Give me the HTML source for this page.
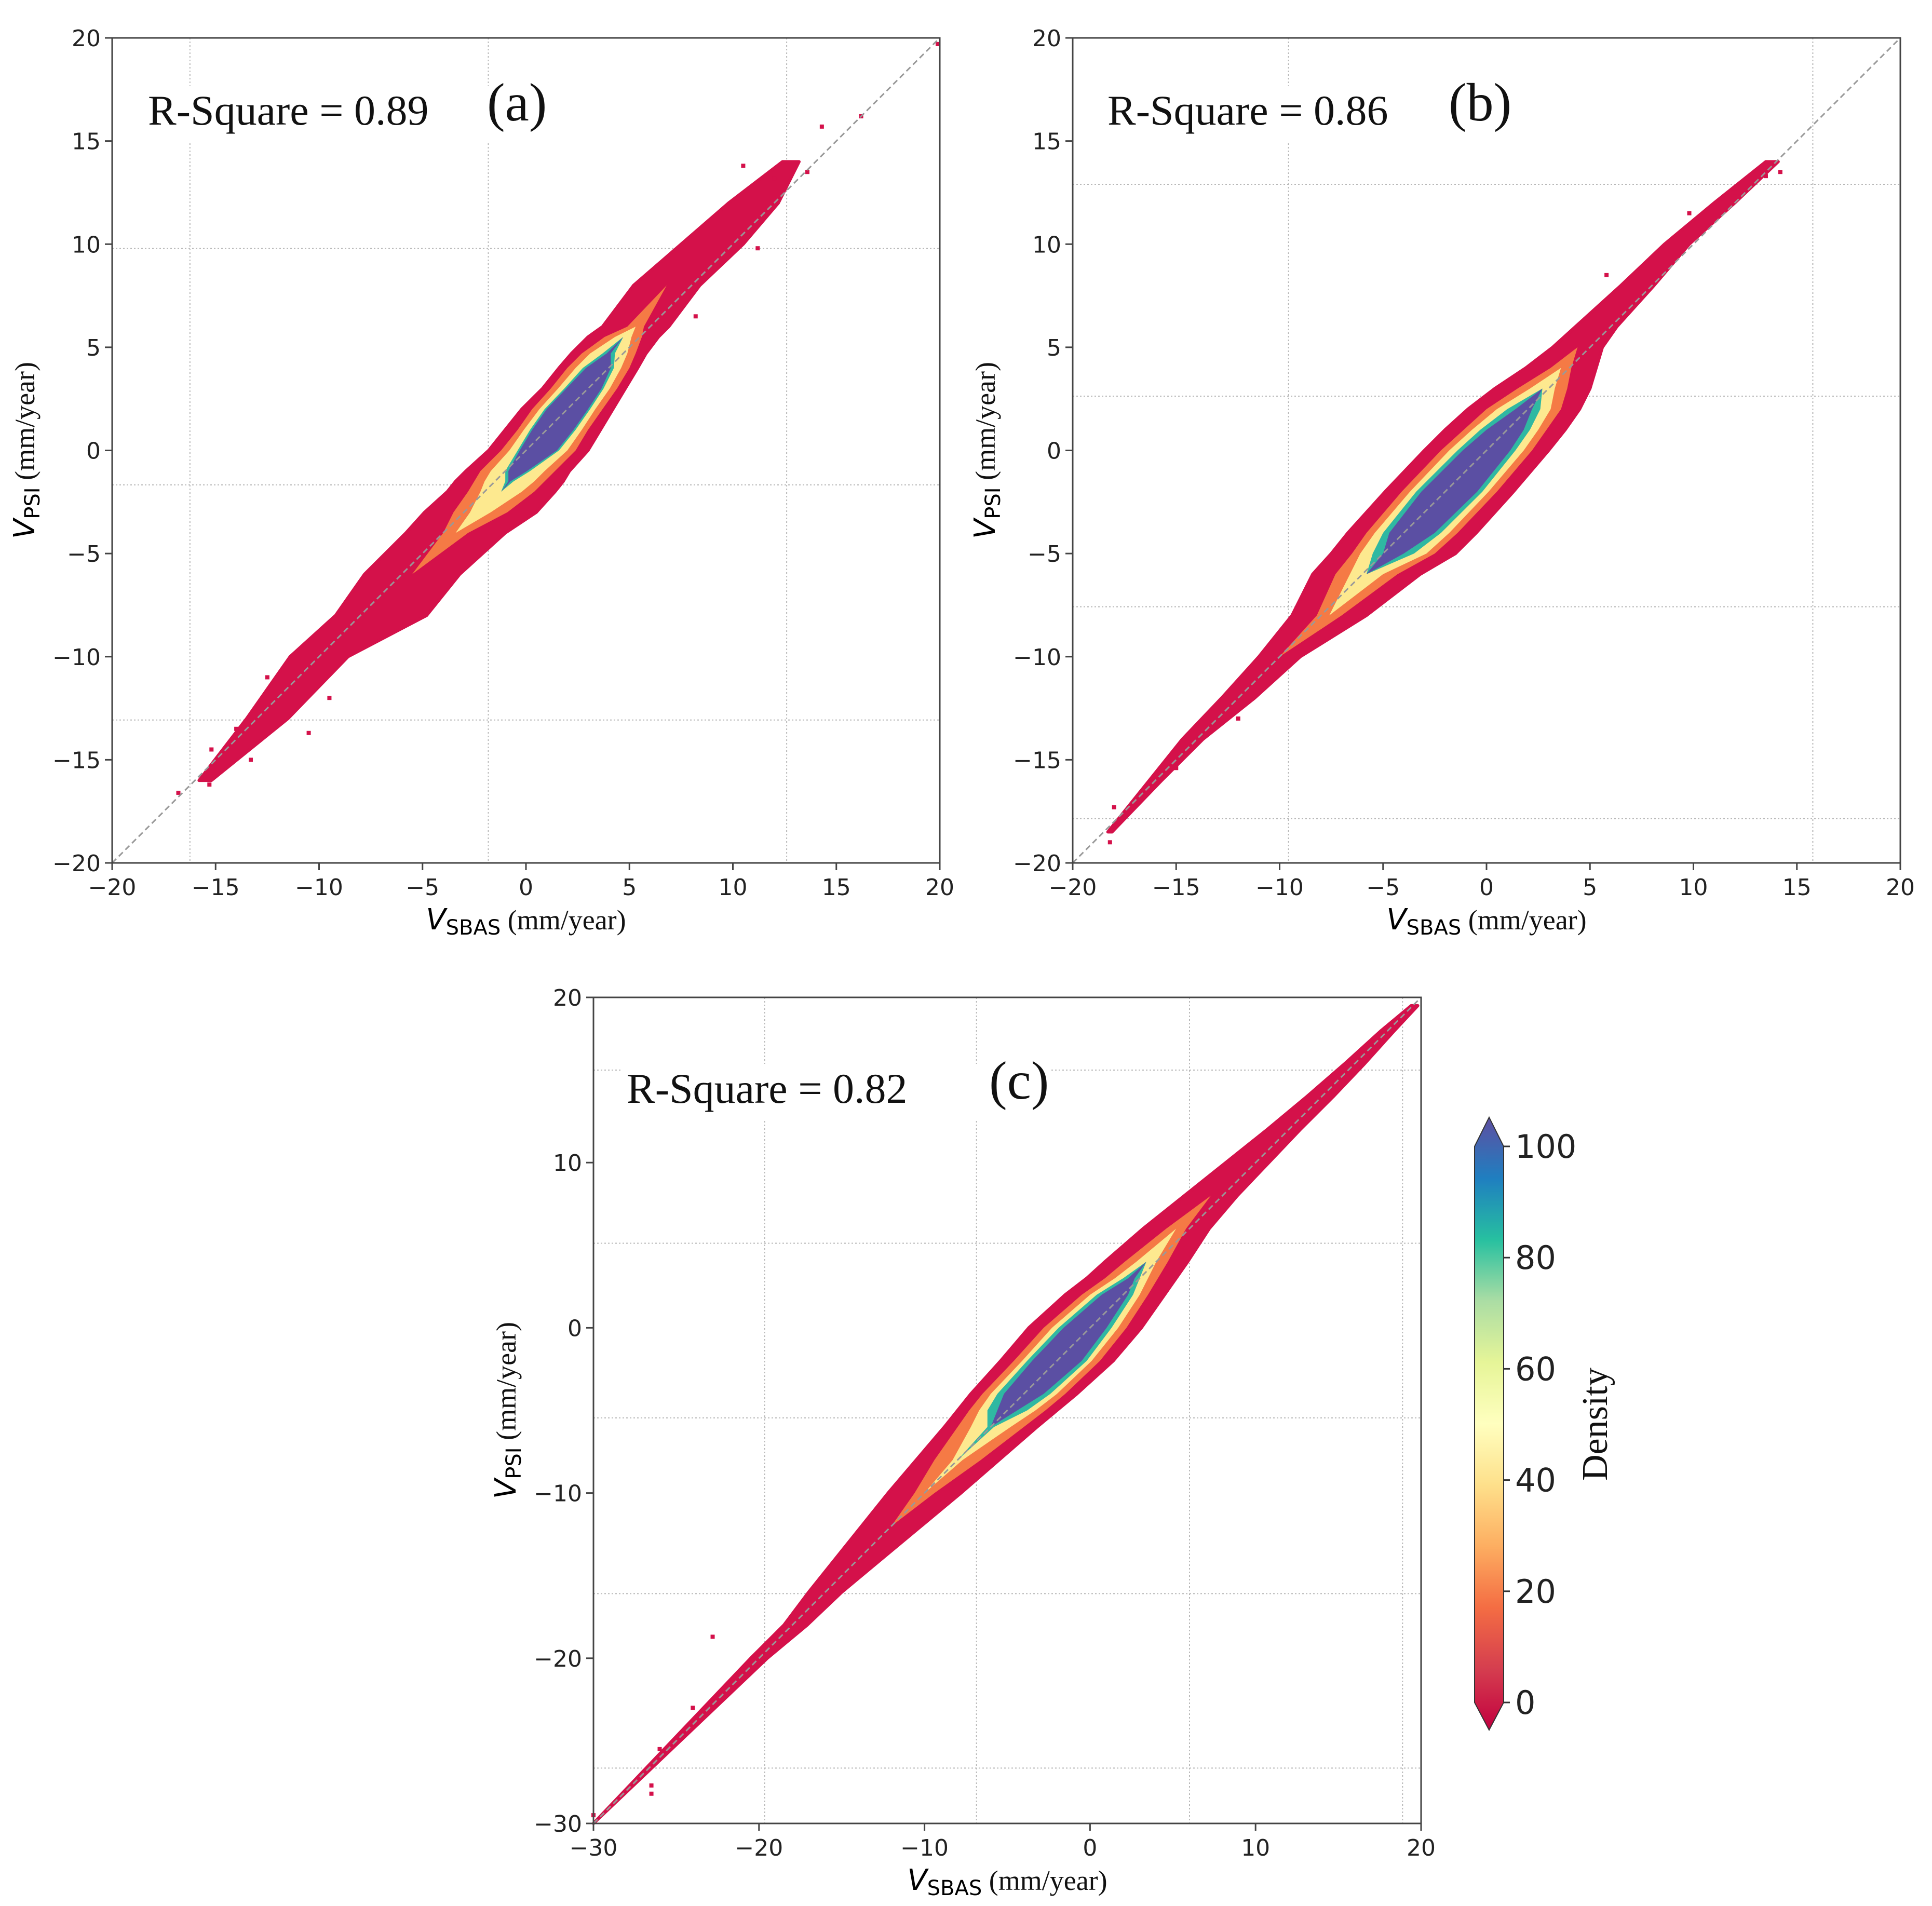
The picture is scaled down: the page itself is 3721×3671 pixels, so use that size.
<!DOCTYPE html>
<html><head><meta charset="utf-8">
<style>
html,body{margin:0;padding:0;background:#fff;}
svg{display:block;}
.tick{font-family:"DejaVu Sans","Liberation Sans",sans-serif;font-size:44px;fill:#222;}
.serif{font-family:"Liberation Serif",serif;fill:#111;}
</style></head>
<body>
<svg id="fig" width="3721" height="3671" viewBox="0 0 3721 3671" xmlns="http://www.w3.org/2000/svg">
<defs>
<linearGradient id="spectral" x1="0" y1="1" x2="0" y2="0">
<stop offset="0" stop-color="#c2003f"/><stop offset="0.1" stop-color="#d53e4f"/><stop offset="0.2" stop-color="#f46d43"/><stop offset="0.3" stop-color="#fdae61"/><stop offset="0.4" stop-color="#fee08b"/><stop offset="0.5" stop-color="#ffffbf"/><stop offset="0.6" stop-color="#e6f598"/><stop offset="0.7" stop-color="#abdda4"/><stop offset="0.8" stop-color="#27c0a0"/><stop offset="0.9" stop-color="#1f7fc0"/><stop offset="1" stop-color="#5e4fa2"/>
</linearGradient>
</defs>
</svg>
<script>
// ---- data ----
const aYs = [-16,-13,-10,-8,-6,-4,-3,-2,-1.5,-1,0,1,2,3,4,4.7,5.5,6,8,10,12,14];
const aCx = [-15.5,-12.5,-10,-7,-5.5,-3.4,-2.2,-1.2,-0.8,-0.4,0.6,1.3,2.0,2.8,3.5,4.0,4.7,5.3,6.8,9,11,12.8];
const aRed = [0.3,1.0,1.4,2.2,2.3,2.4,2.7,2.6,2.6,2.5,2.4,2.3,2.2,2.0,1.9,1.8,1.7,1.6,1.6,1.5,1.2,0.4];
const aOrange = [0,0,0,0,0,0.6,1.3,1.6,1.7,1.8,1.8,1.7,1.7,1.6,1.5,1.3,0.9,0.4,0,0,0,0];
const aYellow = [0,0,0,0,0,0,0.5,1.0,1.2,1.3,1.4,1.4,1.35,1.25,1.1,0.9,0.4,0,0,0,0,0];
const aCyan = [0,0,0,0,0,0,0,0,0.2,0.6,1.0,1.1,1.1,0.95,0.75,0.3,0,0,0,0,0,0];
const aCore = [0,0,0,0,0,0,0,0,0.05,0.45,0.9,1.0,1.0,0.85,0.6,0.1,0,0,0,0,0,0];
const aOut = [[-16.8,-16.6],[-15.3,-16.2],[-15.2,-14.5],[-13.3,-15],[-14,-13.5],[-11.5,-12],[-10.5,-13.7],[-9.5,-12],[-12.5,-11],[19.9,19.7],[16.2,16.2],[14.3,15.7],[13.6,13.5],[11.2,9.8],[10.5,13.8],[8.2,6.5],[12,13.2]];

const bYs = [-18.5,-16,-14,-12,-10,-8,-6,-5,-4,-2,0,1,2,3,4,5,6,8,10,12,14];
const bCx = [-18.2,-16,-14.2,-12,-10,-7.6,-5.8,-4.5,-3.6,-1.8,0,0.9,1.8,2.7,3.6,4.4,5.3,7.3,9.2,11.5,13.8];
const bRed = [0.1,0.3,0.5,0.8,1.0,1.8,2.6,3.0,3.1,3.1,3.0,2.9,2.7,2.3,1.7,1.2,1.0,0.8,0.6,0.5,0.3];
const bOrange = [0,0,0,0,0,0.6,1.5,2.0,2.2,2.3,2.2,2.0,1.8,1.2,0.5,0,0,0,0,0,0];
const bYellow = [0,0,0,0,0,0,0.8,1.6,1.8,1.9,1.8,1.6,1.3,0.6,0,0,0,0,0,0,0];
const bCyan = [0,0,0,0,0,0,0,1.0,1.4,1.6,1.4,1.2,0.8,0,0,0,0,0,0,0,0];
const bCore = [0,0,0,0,0,0,0,0.5,1.1,1.35,1.15,0.9,0.4,0,0,0,0,0,0,0,0];
const bOut = [[-18.2,-19],[-18,-17.3],[-15,-15.4],[-12,-13],[13.5,13.3],[14.2,13.5],[11.4,12.2],[9.8,11.5],[12,12.5],[5.8,8.5]];

const cYs = [-30,-26,-22,-20,-18,-16,-14,-12,-10,-8,-6,-5,-4,-2,0,2,3,4,6,8,10,12,14,16,18,19.5];
const cCx = [-30,-26,-22,-20,-17.8,-16,-14,-12,-10,-8,-6,-5,-4,-2,-0.3,1.5,2.5,3.4,5.2,7.3,9.5,11.7,13.9,16,18,19.6];
const cRed = [0,0.2,0.4,0.5,0.7,1.0,1.4,1.8,2.2,2.5,2.8,3.0,3.2,3.4,3.4,3.0,2.7,2.5,2.0,1.6,1.3,1.0,0.8,0.6,0.4,0.2];
const cOrange = [0,0,0,0,0,0,0,0,0.6,1.4,2.0,2.3,2.5,2.6,2.5,2.0,1.6,1.3,0.6,0,0,0,0,0,0,0];
const cYellow = [0,0,0,0,0,0,0,0,0,0.3,1.2,1.7,2.0,2.1,2.0,1.5,1.0,0.6,0,0,0,0,0,0,0,0];
const cCyan = [0,0,0,0,0,0,0,0,0,0,0.2,1.2,1.6,1.8,1.6,1.1,0.5,0,0,0,0,0,0,0,0,0];
const cCore = [0,0,0,0,0,0,0,0,0,0,0,0.6,1.2,1.5,1.3,0.8,0.2,0,0,0,0,0,0,0,0,0];
const cOut = [[-30,-29.5],[-26.5,-27.7],[-26.5,-28.2],[-24,-23],[-22.8,-18.7],[-26,-25.5],[19.5,19.3],[19,18.8],[18,18],[15.5,15]];

const abTicks = [-20,-15,-10,-5,0,5,10,15,20];
const cTicks = [-30,-20,-10,0,10,20];
const aGridX = [-16.24,-1.82,12.6], aGridY = [9.79,-1.67,-13.07];
const bGridX = [-9.57,15.77], bGridY = [12.9,2.63,-7.58,-17.85];
const cGridX = [-19.66,-6.86,6.01,18.88], cGridY = [15.6,5.12,-5.45,-16.09,-26.65];
const cbTicks = [0,20,40,60,80,100];
const rSquare = ["0.89","0.86","0.82"];

// ---- drawing ----
const NS="http://www.w3.org/2000/svg";
const svg=document.getElementById('fig');
function mk(tag,attrs,parent){const e=document.createElementNS(NS,tag);for(const k in attrs)e.setAttribute(k,attrs[k]);(parent||svg).appendChild(e);return e;}

const colors={red:"#d4114a",orange:"#f57a45",yellow:"#fde98f",cyan:"#2fb8a2",core:"#5b4fa3"};

function panel(id,L,T,W,H,xmin,xmax,ymin,ymax,ticksX,ticksY,gx,gy,ys,cx,bands,outs,r2,letter,txtX,letX,txtY){
  const g=mk('g',{});
  
  
  const X=v=>L+(v-xmin)/(xmax-xmin)*W;
  const Y=v=>T+H-(v-ymin)/(ymax-ymin)*H;
  gx.forEach(v=>{const l=mk('line',{x1:X(v),x2:X(v),y1:T,y2:T+H,stroke:'#b8b8b8','stroke-width':2,'stroke-dasharray':'3,4'},g);
    });
  gy.forEach(v=>{const l=mk('line',{x1:L,x2:L+W,y1:Y(v),y2:Y(v),stroke:'#b8b8b8','stroke-width':2,'stroke-dasharray':'3,4'},g);
    });
  const tb=mk('rect',{x:txtX-10,y:txtY-75,width:(letX+110)-txtX+20,height:110,fill:'#fff'},g);
  
  ['red','orange','yellow','cyan','core'].forEach(b=>{
    const hs=bands[b];let left=[],right=[];
    ys.forEach((y,i)=>{
      const keep=hs[i]>0||(i>0&&hs[i-1]>0)||(i<ys.length-1&&hs[i+1]>0);
      if(!keep)return;
      left.push(X(cx[i]-hs[i])+','+Y(y));right.push(X(cx[i]+hs[i])+','+Y(y));});
    if(left.length<2)return;
    const attrs={points:left.concat(right.reverse()).join(' '),fill:colors[b]};
    if(b==='red'){attrs.stroke=colors.red;attrs['stroke-width']=6;attrs['stroke-linejoin']='round';}
    const p=mk('polygon',attrs,g);
    
  });
  outs.forEach(o=>{const r=mk('rect',{x:X(o[0])-4,y:Y(o[1])-4,width:8,height:8,fill:colors.red},g);
    });
  const lo=Math.max(xmin,ymin),hi=Math.min(xmax,ymax);
  const d=mk('line',{x1:X(lo),y1:Y(lo),x2:X(hi),y2:Y(hi),stroke:'#999','stroke-width':3,'stroke-dasharray':'11,7'},g);
  
  const f=mk('rect',{x:L,y:T,width:W,height:H,fill:'none',stroke:'#444','stroke-width':3},g);
  
  ticksX.forEach(v=>{mk('line',{x1:X(v),x2:X(v),y1:T+H,y2:T+H+14,stroke:'#444','stroke-width':3},g);
    const t=mk('text',{x:X(v),y:T+H+62,'text-anchor':'middle',class:'tick'},g);t.textContent=(v<0?'\u2212'+(-v):v);
    });
  ticksY.forEach(v=>{mk('line',{x1:L-14,x2:L,y1:Y(v),y2:Y(v),stroke:'#444','stroke-width':3},g);
    const t=mk('text',{x:L-22,y:Y(v)+16,'text-anchor':'end',class:'tick'},g);t.textContent=(v<0?'\u2212'+(-v):v);
    });
  const xl=mk('text',{x:L+W/2,y:T+H+128,'text-anchor':'middle'},g);
  
  xl.innerHTML='<tspan font-family="DejaVu Sans, sans-serif" font-style="italic" font-size="56">V</tspan><tspan font-family="DejaVu Sans, sans-serif" font-size="40" dy="10">SBAS</tspan><tspan class="serif" font-size="54" dy="-10"> (mm/year)</tspan>';
  const yx=L-150, yy=T+H/2;
  const yl=mk('text',{x:yx,y:yy,'text-anchor':'middle',transform:`rotate(-90 ${yx} ${yy})`},g);
  
  yl.innerHTML='<tspan font-family="DejaVu Sans, sans-serif" font-style="italic" font-size="56">V</tspan><tspan font-family="DejaVu Sans, sans-serif" font-size="40" dy="10">PSI</tspan><tspan class="serif" font-size="54" dy="-10"> (mm/year)</tspan>';
  const rt=mk('text',{x:txtX,y:txtY,class:'serif','font-size':82},g);rt.textContent='R-Square = '+r2;
  
  const lt=mk('text',{x:letX,y:txtY-8,class:'serif','font-size':104},g);lt.textContent='('+letter+')';
  
}

panel('a',216,73,1594,1589,-20,20,-20,20,abTicks,abTicks,aGridX,aGridY,aYs,aCx,
  {red:aRed,orange:aOrange,yellow:aYellow,cyan:aCyan,core:aCore},aOut,rSquare[0],'a',285,938,240);
panel('b',2066,73,1594,1589,-20,20,-20,20,abTicks,abTicks,bGridX,bGridY,bYs,bCx,
  {red:bRed,orange:bOrange,yellow:bYellow,cyan:bCyan,core:bCore},bOut,rSquare[1],'b',2133,2790,240);
panel('c',1143,1921,1594,1591,-30,20,-30,20,cTicks,cTicks,cGridX,cGridY,cYs,cCx,
  {red:cRed,orange:cOrange,yellow:cYellow,cyan:cCyan,core:cCore},cOut,rSquare[2],'c',1207,1905,2124);

const cbL=2840,cbR=2896,cbT=2208,cbB=3279;
const cb=mk('path',{d:`M${cbL},${cbT} L${(cbL+cbR)/2},2152 L${cbR},${cbT} L${cbR},${cbB} L${(cbL+cbR)/2},3332 L${cbL},${cbB} Z`,fill:'url(#spectral)',stroke:'#333','stroke-width':2});


cbTicks.forEach(v=>{const y=cbB-(v/100)*(cbB-cbT);
  mk('line',{x1:cbR,x2:cbR+12,y1:y,y2:y,stroke:'#333','stroke-width':3});
  const t=mk('text',{x:cbR+22,y:y+22,class:'tick'});
  t.style.fontSize='62px';t.textContent=v;
  
  });
const dl=mk('text',{x:3095,y:2743,'text-anchor':'middle',class:'serif','font-size':70,transform:'rotate(-90 3095 2743)'});
dl.textContent='Density';


</script>
</body></html>
